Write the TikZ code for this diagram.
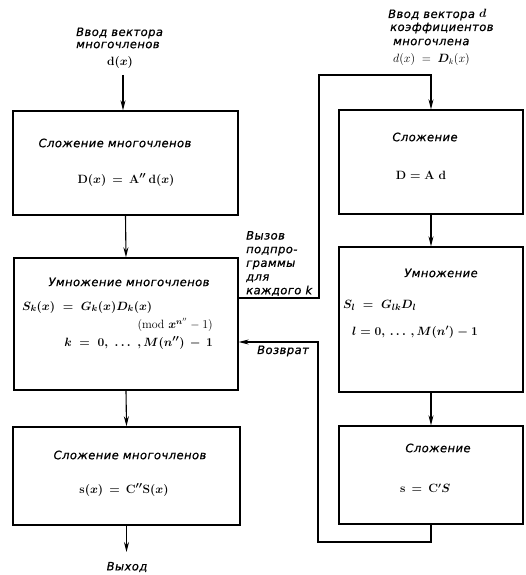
\documentclass[tikz,border=0pt]{standalone}
\usepackage{fontspec}
\usepackage{amsmath}
\usepackage{bm}
\usetikzlibrary{arrows.meta,calc}
\newfontfamily\lblfont{DejaVu Sans}[LetterSpace=4, FakeBold=0.6]

\begin{document}
\begin{tikzpicture}[x=1pt,y=-1pt,
  block/.style={draw, line width=1.4pt, rectangle, inner sep=0pt},
  lbl/.style={font=\lblfont\itshape\fontsize{11.5}{13.7}\selectfont, inner sep=0pt},
  eqn/.style={font=\fontsize{12}{14}\selectfont, inner sep=0pt},
  eq/.style={eqn, font=\fontsize{13}{15}\selectfont\boldmath},
  eqs/.style={eqn, font=\fontsize{12}{14}\selectfont\boldmath},
  wire/.style={line width=1.1pt},
  arr/.style={wire, -{Stealth[length=10pt,width=5pt]}}]
\useasboundingbox (0,0) rectangle (526,575);

% ---- left column: polynomial algorithm ----
\node[block, minimum width=225pt, minimum height=104pt] (b1) at (125.5,163) {};
\node[block, minimum width=224pt, minimum height=132pt] (b2) at (126,324) {};
\node[block, minimum width=227pt, minimum height=98pt]  (b3) at (126.5,476) {};

\node[lbl, anchor=west] (inA) at (76,33) {Ввод вектора};
\node[lbl, anchor=west] (inB) at (76,45) {многочленов};
\node[eq] (inC) at (120,63) {$\mathbf{d}(x)$};

\node[lbl] (t1) at (115,143) {Сложение многочленов};
\node[eq]  (e1) at (126,180) {$\mathbf{D}(x) \,=\, \mathbf{A}''\,\mathbf{d}(x)$};

\node[lbl] (t2) at (129,282) {Умножение многочленов};
\node[eq, anchor=west] (e2a) at (22,307) {$S_{k}(x) \;=\; G_{k}(x)D_{k}(x)$};
\node[eqn, anchor=east] (e2b) at (213,325) {$(\mathrm{mod}\ \bm{x}^{\bm{n}''}-1)$};
\node[eq, anchor=east] (e2c) at (213,343) {$k \;=\; 0,\ \ldots\ ,M(n'') \,-\, 1$};

\node[lbl] (t3) at (130,455) {Сложение многочленов};
\node[eq]  (e3) at (124,490) {$\mathbf{s}(x) \,=\, \mathbf{C}''\mathbf{S}(x)$};

\node[lbl] (out) at (127,567) {Выход};

\coordinate (inL) at (123,75);
\coordinate (outL) at (126.5,552);
\draw[arr] (inL) -- (inL |- b1.north);
\draw[arr] (b1.south) -- (b2.north);
\draw[arr] (b2.south) -- (b3.north);
\draw[arr] (b3.south) -- (outL);

% ---- right column: subroutine on coefficient vectors ----
\node[block, minimum width=184pt, minimum height=104pt] (r1) at (431,162) {};
\node[block, minimum width=184pt, minimum height=145pt] (r2) at (431,319.5) {};
\node[block, minimum width=184pt, minimum height=98pt]  (r3) at (431,475) {};

\node[lbl, anchor=west] (rA) at (388,15) {Ввод вектора $\bm{d}$};
\node[lbl, anchor=west] (rB) at (390,28) {коэффициентов};
\node[lbl, anchor=west] (rC) at (393,42) {многочлена};
\node[eqn, anchor=west]  (rD) at (393,60) {$d(x) \;=\; \bm{D}_{k}(x)$};

\node[lbl] (s1) at (425,137) {Сложение};
\node[eqs] (f1) at (421,175) {$\mathbf{D} = \mathbf{A}\ \mathbf{d}$};

\node[lbl] (s2) at (441,273) {Умножение};
\node[eq, anchor=west] (f2a) at (343,305) {$S_{l} \;=\; G_{lk}D_{l}$};
\node[eqs, anchor=west] (f2b) at (352,332) {$l = 0,\,\ldots\,,M(n') - 1$};

\node[lbl] (s3) at (438,448) {Сложение};
\node[eqs, anchor=west] (f3) at (400,488) {$\mathbf{s} \,=\, \mathbf{C}'S$};

\draw[arr] (r1.south) -- (r2.north);
\draw[arr] (r2.south) -- (r3.north);

% ---- call and return paths ----
\node[lbl, anchor=west, align=left] (call) at (246,263.5)
  {Вызов\\подпро-\\граммы\\для\\каждого k};
\node[lbl, anchor=west] (ret) at (257,351) {Возврат};

\coordinate (c1) at (319,298);
\coordinate (c2) at (319,75);
\coordinate (c3) at (431,75);
\draw[arr] (b2.east |- c1) -- (c1) -- (c2) -- (c3) -- (r1.north);

\coordinate (d1) at (431,542);
\coordinate (d2) at (318,542);
\coordinate (d3) at (318,342);
\draw[arr] (r3.south) -- (d1) -- (d2) -- (d3) -- (d3 -| b2.east);
\end{tikzpicture}
\end{document}
